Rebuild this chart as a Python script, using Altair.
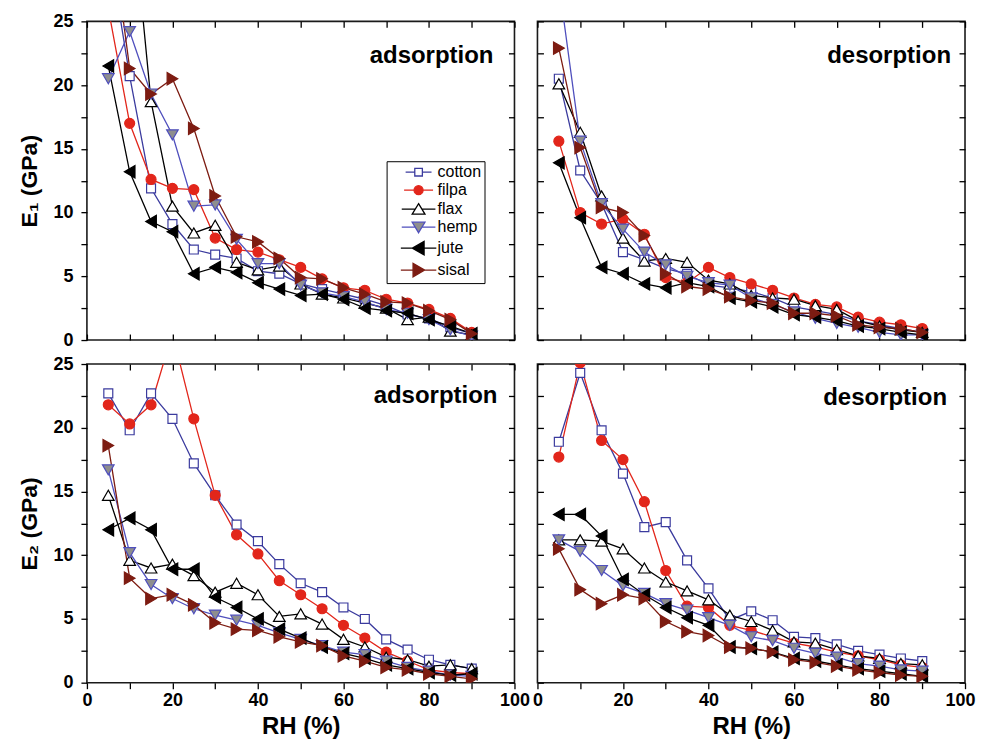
import altair as alt
import pandas as pd

RH = [5, 10, 15, 20, 25, 30, 35, 40, 45, 50, 55, 60, 65, 70, 75, 80, 85, 90]
SERIES = ["cotton", "filpa", "flax", "hemp", "jute", "sisal"]

# E1, adsorption
e1_ads_cotton = [31.0, 20.7, 11.9, 9.1, 7.1, 6.7, 6.4, 5.4, 5.2, 4.4, 4.0, 3.6, 3.2, 2.7, 2.0, 1.7, 1.0, 0.5]
e1_ads_filpa = [26.0, 17.0, 12.6, 11.9, 11.8, 8.0, 7.1, 6.9, 6.3, 5.7, 4.8, 4.1, 3.9, 3.2, 2.9, 2.4, 1.7, 0.6]
e1_ads_flax = [38.0, 36.0, 18.7, 10.5, 8.4, 9.0, 6.1, 5.5, 5.8, 4.4, 3.6, 3.3, 2.9, 2.5, 1.6, 1.8, 0.7, 0.4]
e1_ads_hemp = [20.5, 24.2, 19.3, 16.1, 10.5, 10.6, 7.9, 6.0, 6.0, 4.3, 3.7, 3.4, 3.0, 2.4, 2.1, 1.6, 0.8, 0.3]
e1_ads_jute = [21.5, 13.2, 9.3, 8.5, 5.2, 5.7, 5.3, 4.5, 4.0, 3.5, 3.6, 3.2, 2.5, 2.3, 2.1, 1.6, 1.1, 0.5]
e1_ads_sisal = [34.0, 21.3, 19.3, 20.5, 16.6, 11.3, 8.1, 7.7, 6.4, 4.9, 4.8, 4.1, 3.6, 3.0, 2.9, 2.3, 1.6, 0.5]

# E1, desorption
e1_des_cotton = [20.5, 13.3, 10.7, 6.9, 6.3, 5.6, 5.2, 4.3, 4.1, 3.8, 3.3, 2.6, 2.3, 2.0, 1.5, 1.2, 0.9, 0.6]
e1_des_filpa = [15.6, 10.0, 9.1, 9.5, 8.3, 4.9, 4.5, 5.7, 4.9, 4.4, 3.9, 3.3, 2.8, 2.6, 1.8, 1.4, 1.2, 0.9]
e1_des_flax = [20.1, 16.3, 11.3, 8.0, 6.2, 6.4, 6.1, 4.7, 4.4, 3.5, 3.3, 3.2, 2.7, 2.4, 1.5, 1.1, 0.8, 0.6]
e1_des_hemp = [28.0, 15.6, 10.7, 8.7, 6.9, 5.9, 5.0, 4.5, 4.3, 3.3, 2.8, 2.2, 1.7, 1.3, 1.0, 0.6, 0.4, 0.4]
e1_des_jute = [13.9, 9.6, 5.7, 5.2, 4.4, 4.1, 4.5, 4.2, 3.3, 3.0, 2.6, 2.0, 1.8, 1.5, 1.1, 0.9, 0.6, 0.4]
e1_des_sisal = [22.9, 15.1, 10.4, 10.0, 8.2, 5.2, 4.2, 4.0, 3.4, 3.1, 2.9, 2.1, 2.1, 1.9, 1.2, 1.0, 0.9, 0.6]

# E2, adsorption
e2_ads_cotton = [22.7, 19.8, 22.7, 20.7, 17.2, 14.7, 12.4, 11.1, 9.3, 7.8, 7.1, 5.9, 5.0, 3.4, 2.6, 1.8, 1.4, 1.1]
e2_ads_filpa = [21.8, 20.3, 21.8, 27.4, 20.7, 14.7, 11.6, 10.1, 8.0, 6.9, 5.8, 4.5, 3.5, 2.4, 1.7, 1.0, 0.8, 0.7]
e2_ads_flax = [14.7, 9.6, 9.0, 9.3, 8.4, 7.1, 7.8, 6.9, 5.2, 5.4, 4.6, 3.4, 2.8, 2.0, 1.8, 1.3, 1.4, 1.1]
e2_ads_hemp = [16.7, 10.2, 7.7, 6.6, 5.8, 5.3, 4.9, 4.5, 3.9, 3.4, 2.9, 2.4, 2.2, 1.7, 1.2, 0.9, 0.6, 0.5]
e2_ads_jute = [12.0, 12.9, 12.0, 8.9, 8.9, 6.7, 5.9, 5.0, 4.2, 3.5, 2.8, 2.3, 1.9, 1.4, 1.1, 0.8, 0.6, 0.7]
e2_ads_sisal = [18.6, 8.2, 6.6, 6.9, 6.1, 4.7, 4.2, 4.1, 3.6, 3.2, 2.9, 2.1, 1.7, 1.2, 1.0, 0.7, 0.5, 0.3]

# E2, desorption
e2_des_cotton = [18.9, 24.3, 19.8, 16.4, 12.2, 12.6, 9.6, 7.4, 4.9, 5.6, 4.9, 3.6, 3.5, 3.0, 2.5, 2.2, 1.9, 1.7]
e2_des_filpa = [17.7, 25.1, 19.0, 17.5, 14.2, 8.8, 6.0, 5.9, 4.5, 4.1, 3.6, 3.1, 2.8, 2.4, 2.1, 1.8, 1.4, 1.2]
e2_des_flax = [11.2, 11.2, 11.1, 10.5, 9.0, 7.9, 7.2, 6.5, 5.3, 4.8, 4.1, 3.2, 3.1, 2.6, 2.1, 1.9, 1.5, 1.4]
e2_des_hemp = [11.2, 10.3, 8.8, 7.6, 7.0, 6.2, 5.7, 5.1, 4.5, 3.6, 3.3, 2.7, 2.3, 2.0, 1.5, 1.3, 1.0, 0.9]
e2_des_jute = [13.2, 13.2, 11.5, 8.1, 6.9, 5.9, 5.1, 4.5, 2.8, 2.7, 2.4, 1.9, 1.7, 1.4, 1.1, 0.9, 0.7, 0.5]
e2_des_sisal = [10.5, 7.3, 6.2, 6.9, 6.6, 4.8, 4.0, 3.7, 2.8, 2.7, 2.4, 1.8, 1.6, 1.3, 1.0, 0.8, 0.6, 0.5]

Y_TICKS = [0, 2.5, 5, 7.5, 10, 12.5, 15, 17.5, 20, 22.5, 25]
X_TICKS = [0, 10, 20, 30, 40, 50, 60, 70, 80, 90, 100]

STROKES = ["#3b3b9e", "#e2261b", "#000000", "#4f4fbd", "#000000", "#7d1c12"]
FILLS = ["#ffffff", "#e2261b", "#ffffff", "#8e8e8e", "#000000", "#7d1c12"]
SHAPES = ["square", "circle", "triangle-up", "triangle-down", "triangle-left", "triangle-right"]
SIZES = [80, 100, 135, 135, 150, 150]

# legend symbols: marker with a short line through it
LEGEND_PATHS = [
    "M-2.9,0H-0.85M0.85,0H2.9M-0.85,-0.85H0.85V0.85H-0.85Z",
    "M-2.9,0H-0.9M0.9,0H2.9M-0.9,0A0.9,0.9,0,1,1,0.9,0A0.9,0.9,0,1,1,-0.9,0Z",
    "M-2.9,0H-0.58M0.58,0H2.9M0,-0.95L1.1,0.85H-1.1Z",
    "M-2.9,0H-0.58M0.58,0H2.9M0,0.95L1.1,-0.85H-1.1Z",
    "M-2.9,0H-1M0.9,0H2.9M-1,0L0.9,-1.1V1.1Z",
    "M-2.9,0H-0.9M1,0H2.9M1,0L-0.9,-1.1V1.1Z",
]

FONT = "Liberation Sans, Arial, Helvetica, sans-serif"
W, H = 428, 319
TICK = 6


def frame(series_values):
    rows = []
    for name, shp, vals in zip(SERIES, SHAPES, series_values):
        for rh, v in zip(RH, vals):
            rows.append({"rh": rh, "E": v, "series": name, "shape": shp})
    return pd.DataFrame(rows)


def make_axis(orient, labeled, title=None, pull_last=False):
    is_y = orient in ("left", "right")
    kw = dict(
        orient=orient,
        values=Y_TICKS if is_y else X_TICKS,
        tickSize=TICK,
        tickColor="black",
        tickWidth=1.3,
        domain=False,
        grid=False,
        labels=labeled,
        labelOverlap=False,
        labelFlush=False,
    )
    if labeled:
        kw.update(
            labelExpr=("datum.value % 5 === 0 ? datum.label : ''" if is_y
                       else "datum.value % 20 === 0 ? datum.label : ''"),
            labelFont=FONT,
            labelFontSize=18,
            labelFontWeight="bold",
            labelColor="black",
            labelPadding=8 if is_y else 3,
            title=title,
            titleFont=FONT,
            titleFontWeight="bold",
            titleColor="black",
        )
        if is_y:
            kw.update(titlePadding=11, titleFontSize=23)
        else:
            kw.update(titleBaseline="alphabetic", titleY=51, titleFontSize=24)
            if pull_last:
                kw.update(labelOffset={"condition": {"test": "datum.value === 100", "value": -5},
                                       "value": 0})
    else:
        kw.update(offset=-TICK, title=None)
    return alt.Axis(**kw)


stroke_scale = alt.Scale(domain=SERIES, range=STROKES)
fill_scale = alt.Scale(domain=SERIES, range=FILLS)
size_scale = alt.Scale(type="ordinal", domain=SERIES, range=SIZES)
legend_shape_scale = alt.Scale(domain=SERIES, range=LEGEND_PATHS)

LEGEND = alt.Legend(
    title=None,
    orient="none",
    legendX=300,
    legendY=140,
    strokeColor="black",
    fillColor="white",
    padding=3,
    labelFont=FONT,
    labelFontSize=16,
    labelColor="black",
    rowPadding=2,
    symbolSize=130,
    symbolStrokeWidth=1.3,
    symbolOffset=21,
    labelOffset=11,
)


def panel(series_values, label, label_dx, label_y, left_labeled, bottom_labeled,
          ytitle, with_legend, pull_last=False):
    df = frame(series_values)
    xs = alt.Scale(domain=[0, 100], nice=False, zero=False)
    ys = alt.Scale(domain=[0, 25], nice=False, zero=False)
    leg = LEGEND if with_legend else None
    base = alt.Chart(df)
    lines = base.mark_line(clip=True, strokeWidth=1.3).encode(
        x=alt.X("rh:Q", scale=xs,
                axis=make_axis("bottom", bottom_labeled, "RH (%)", pull_last)),
        y=alt.Y("E:Q", scale=ys, axis=make_axis("left", left_labeled, ytitle)),
        stroke=alt.Stroke("series:N", scale=stroke_scale, legend=leg),
    )
    points = base.mark_point(filled=True, clip=True, strokeWidth=1.2, opacity=1).encode(
        x=alt.X("rh:Q", scale=xs, axis=make_axis("top", False)),
        y=alt.Y("E:Q", scale=ys, axis=make_axis("right", False)),
        stroke=alt.Stroke("series:N", scale=stroke_scale, legend=leg),
        fill=alt.Fill("series:N", scale=fill_scale, legend=leg),
        shape=alt.Shape("shape:N", scale=None),
        size=alt.Size("series:N", scale=size_scale, legend=None),
    )
    text = alt.Chart(pd.DataFrame({"label": [label]})).mark_text(
        align="right", baseline="middle", font=FONT, fontSize=24,
        fontWeight="bold", color="black",
    ).encode(x=alt.value(W - label_dx), y=alt.value(label_y), text="label:N")
    layers = [lines, points, text]
    if with_legend:
        legend_layer = base.transform_filter("false").mark_point(
            filled=True, strokeWidth=1.3, opacity=1
        ).encode(
            stroke=alt.Stroke("series:N", scale=stroke_scale, legend=LEGEND),
            fill=alt.Fill("series:N", scale=fill_scale, legend=LEGEND),
            shape=alt.Shape("series:N", scale=legend_shape_scale, legend=LEGEND),
        )
        layers = [legend_layer] + layers
    return alt.layer(*layers).resolve_axis(
        x="independent", y="independent"
    ).properties(width=W, height=H)


p1 = panel([e1_ads_cotton, e1_ads_filpa, e1_ads_flax, e1_ads_hemp, e1_ads_jute, e1_ads_sisal],
           "adsorption", 21, 35, True, False, "E\u2081 (GPa)", True)
p2 = panel([e1_des_cotton, e1_des_filpa, e1_des_flax, e1_des_hemp, e1_des_jute, e1_des_sisal],
           "desorption", 14, 35, False, False, None, False)
p3 = panel([e2_ads_cotton, e2_ads_filpa, e2_ads_flax, e2_ads_hemp, e2_ads_jute, e2_ads_sisal],
           "adsorption", 17, 32, True, True, "E\u2082 (GPa)", False)
p4 = panel([e2_des_cotton, e2_des_filpa, e2_des_flax, e2_des_hemp, e2_des_jute, e2_des_sisal],
           "desorption", 18, 34, False, True, None, False, pull_last=True)

chart = alt.concat(
    p1, p2, p3, p4, columns=2, spacing={"row": 24, "column": 23}, bounds="flush"
).resolve_scale(
    stroke="independent", fill="independent", shape="independent", size="independent"
).configure_view(
    stroke="#1a1a1a", strokeWidth=1.6
).properties(
    padding={"left": 10, "top": 3, "right": 0, "bottom": 0}
)

chart.save("out.html", embed_options={"renderer": "svg", "actions": False})
